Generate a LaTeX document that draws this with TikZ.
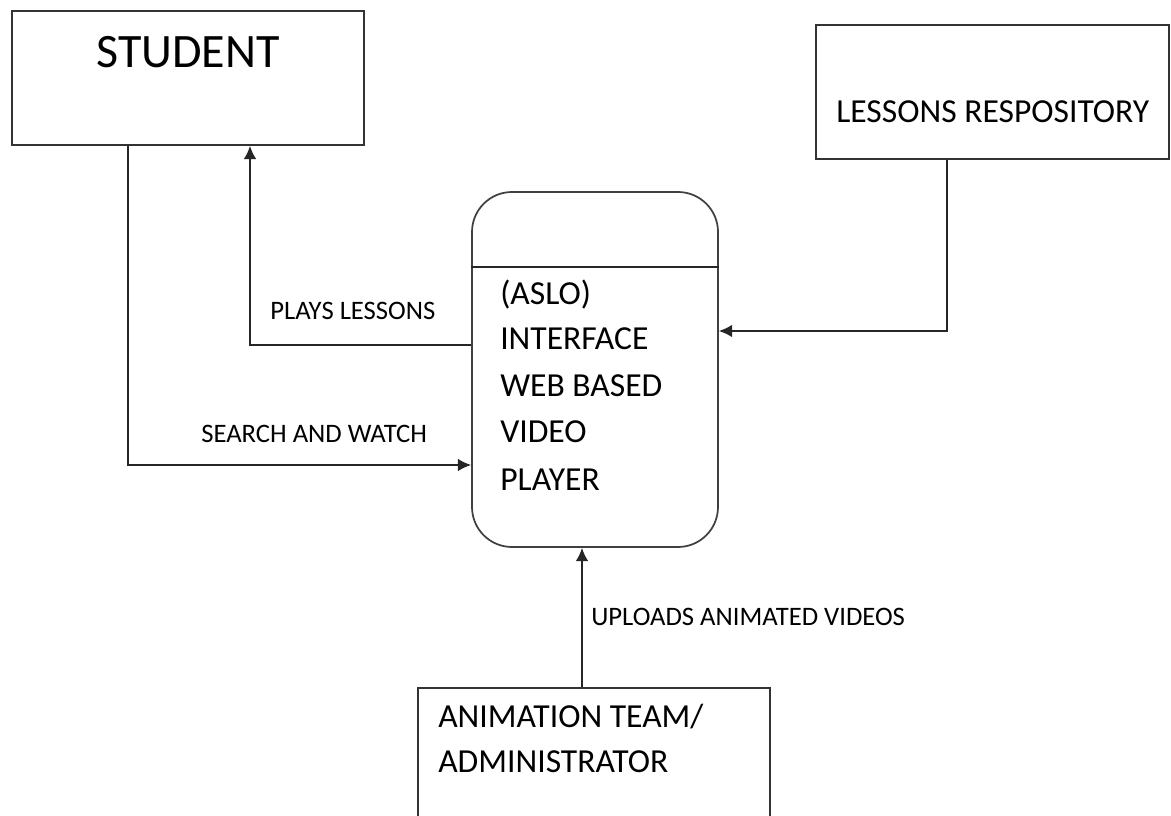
\documentclass[tikz,border=0pt]{standalone}
\usepackage{fontspec}
\setmainfont{Carlito}
\usetikzlibrary{arrows.meta}
\begin{document}
\begin{tikzpicture}[x=0.75pt,y=-0.75pt,
  box/.style={draw=black!80,line width=1.3pt,rectangle,inner sep=0pt},
  roundbox/.style={draw=black!75,line width=1.3pt,rectangle,rounded corners=30pt,inner sep=0pt},
  arr/.style={draw=black!85,line width=1.1pt,-{Latex[length=10pt,width=9.5pt]}},
  big/.style={inner sep=0pt,anchor=base west,font=\fontsize{25.2}{30}\selectfont},
  small/.style={inner sep=0pt,anchor=base west,font=\fontsize{20}{24}\selectfont}]
\clip (0,0) rectangle (1171,816);
\useasboundingbox (0,0) rectangle (1171,816);
% boxes
\node[box,minimum width=352*0.75pt,minimum height=134*0.75pt] (stu) at (188,78) {};
\node[box,minimum width=353*0.75pt,minimum height=134*0.75pt] (rep) at (992.5,92) {};
\node[roundbox,minimum width=246*0.75pt,minimum height=355*0.75pt] (ctr) at (595,369.5) {};
\node[box,minimum width=352*0.75pt,minimum height=200*0.75pt] (ani) at (594,788) {};
\coordinate (dv) at (0,267);
\draw[draw=black!85,line width=1.1pt] (ctr.west |- dv) -- (ctr.east |- dv);
% texts
\node[inner sep=0pt,anchor=base,font=\fontsize{36}{43}\selectfont] (tstu) at (188,68) {STUDENT};
\node[big] (trep) at (836,123) {LESSONS RESPOSITORY};
\node[big] (t1) at (500,305) {(ASLO)};
\node[big] (t2) at (500,350) {INTERFACE};
\node[big] (t3) at (500,397) {WEB BASED};
\node[big] (t4) at (500,443) {VIDEO};
\node[big] (t5) at (500,490) {PLAYER};
\node[big] (ta1) at (438,727) {ANIMATION TEAM/};
\node[big] (ta2) at (438,772) {ADMINISTRATOR};
\node[small] (lpl) at (270,320) {PLAYS LESSONS};
\node[small] (lsw) at (201,442) {SEARCH AND WATCH};
\node[small] (lup) at (591,625) {UPLOADS ANIMATED VIDEOS};
% connectors
\coordinate (p1) at (250,345);
\draw[arr] (p1 -| ctr.west) -- (p1) -- (p1 |- stu.south);
\coordinate (p2) at (128,465);
\draw[arr] (p2 |- stu.south) -- (p2) -- (p2 -| ctr.west);
\coordinate (p3) at (947,331);
\draw[arr] (p3 |- rep.south) -- (p3) -- (p3 -| ctr.east);
\coordinate (p4) at (582,600);
\draw[arr] (p4 |- ani.north) -- (p4 |- ctr.south);
\end{tikzpicture}
\end{document}
